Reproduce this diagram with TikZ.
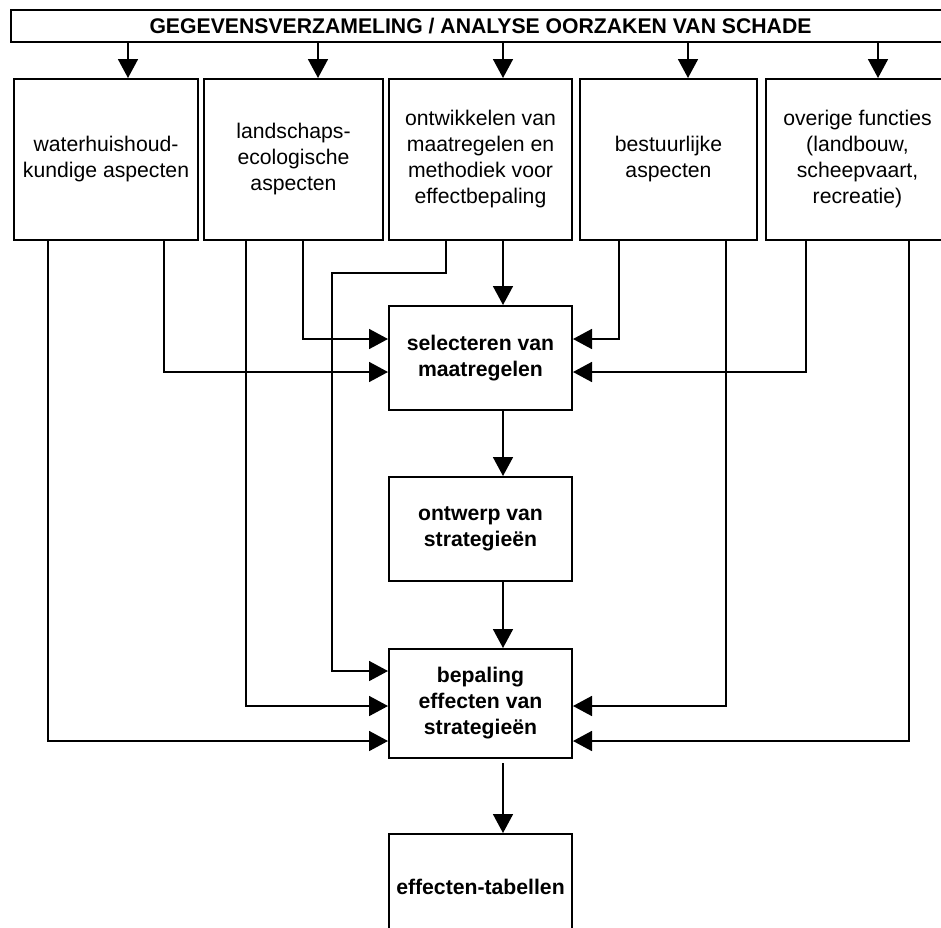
\documentclass[tikz,border=0pt]{standalone}
\usepackage{fontspec}
\setmainfont{Liberation Sans}
\usepackage{tikz}
\usetikzlibrary{positioning}
\usetikzlibrary{arrows.meta}
\tikzset{vak/.style={draw, line width=2pt, inner sep=0pt, align=center,
    minimum height=161pt, font=\fontsize{21.2pt}{26pt}\selectfont}}
\tikzset{stapvak/.style={vak, minimum width=183pt, minimum height=104pt,
    font=\fontsize{21.2pt}{26pt}\selectfont\bfseries}}
\tikzset{pijl/.style={line width=1.7pt, -{Triangle[length=19pt,width=20pt]}}}

\begin{document}
\begin{tikzpicture}[x=1pt,y=-1pt]
\useasboundingbox (0,0) rectangle (941,927);
\clip (0,0) rectangle (941,927);
\node[vak, minimum width=939pt, minimum height=32pt, font=\fontsize{21.2pt}{26pt}\selectfont\bfseries] (bron) at (480.5,26) {GEGEVENSVERZAMELING / ANALYSE OORZAKEN VAN SCHADE};
\node[vak, minimum width=184pt] (wh) at (106,159.5) {waterhuishoud-\\kundige aspecten};
\node[vak, minimum width=179pt] (ls) at (293.5,159.5) {landschaps-\\ecologische\\aspecten};
\node[vak, minimum width=183pt] (om) at (480.5,159.5) {ontwikkelen van\\maatregelen en\\methodiek voor\\effectbepaling};
\node[vak, minimum width=177pt] (bs) at (668.5,159.5) {bestuurlijke\\aspecten};
\node[vak, minimum width=183pt] (ov) at (857.5,159.5) {overige functies\\(landbouw,\\scheepvaart,\\recreatie)};
\node[stapvak] (sel) at (480.5,358) {selecteren van\\maatregelen};
\node[stapvak] (ont) at (480.5,529) {ontwerp van\\strategieën};
\node[stapvak, minimum height=109pt] (bep) at (480.5,703.5) {bepaling\\effecten van\\strategieën};
\node[stapvak, minimum height=106pt] (tab) at (480.5,887) {effecten-tabellen};
% van de bron naar de deelonderzoeken
\foreach \x/\n in {128/wh,318/ls,503/om,688/bs,878/ov}
  \draw[pijl] (bron.south -| \x,0) -- (\n.north -| \x,0);
% hoofdlijn
\draw[pijl] (om.south -| 503,0) -- (sel.north -| 503,0);
\draw[pijl] (sel.south -| 503,0) -- (ont.north -| 503,0);
\draw[pijl] (ont.south -| 503,0) -- (bep.north -| 503,0);
\draw[pijl] ([yshift=-4pt]bep.south -| 503,0) -- (tab.north -| 503,0);
% links
\draw[pijl] (wh.south -| 164,0) |- (sel.west |- 0,372);
\draw[pijl] (ls.south -| 303,0) |- (sel.west |- 0,339);
\draw[pijl] (wh.south -| 48,0) |- (bep.west |- 0,741);
\draw[pijl] (ls.south -| 246,0) |- (bep.west |- 0,706);
\draw[pijl] (om.south -| 446,0) |- (332,273) |- (bep.west |- 0,671);
% rechts
\draw[pijl] (bs.south -| 619,0) |- (sel.east |- 0,339);
\draw[pijl] (ov.south -| 806,0) |- (sel.east |- 0,372);
\draw[pijl] (bs.south -| 726,0) |- (bep.east |- 0,706);
\draw[pijl] (ov.south -| 909,0) |- (bep.east |- 0,741);
\end{tikzpicture}
\end{document}
